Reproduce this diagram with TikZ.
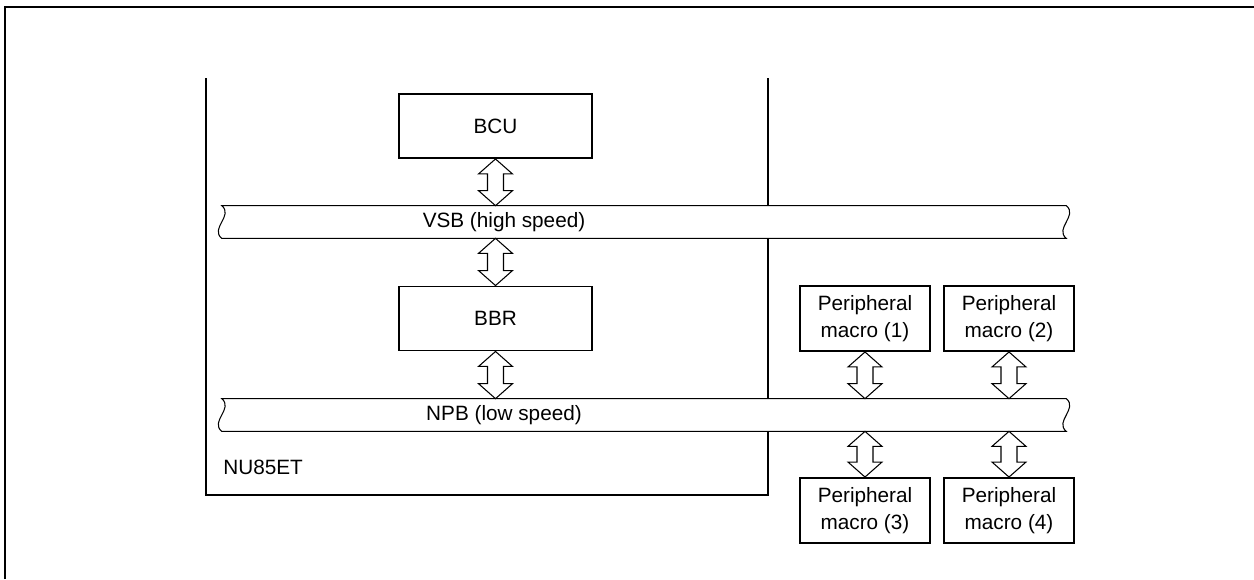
\documentclass[tikz,border=0pt]{standalone}
\usepackage{fontspec}
\setmainfont{Liberation Sans}
\usetikzlibrary{calc}

\tikzset{
    box/.style={draw, line width=1.1pt, fill=white, align=center, inner sep=0pt,
        font=\fontsize{11.8}{15.3}\selectfont},
    unit/.style={box, minimum width=3.86cm, minimum height=1.28cm},
    macro/.style={box, minimum width=2.6cm, minimum height=1.3cm},
    bus/.style={minimum width=16.88cm, minimum height=0.64cm, inner sep=0pt},
    busline/.style={draw, fill=white, line width=0.6pt},
    label/.style={inner sep=0pt, font=\fontsize{11.8}{15.3}\selectfont},
    chip/.style={line width=1.1pt},
    link/.style={draw, fill=white, line width=0.6pt, line join=miter,
        to path={let \p1=(\tikztostart), \p2=(\tikztotarget) in
            (\x1,\y1) -- ++(0.34cm,-0.3cm) -- ++(-0.18cm,0) -- (\x1+0.16cm,\y2+0.3cm)
            -- ++(0.18cm,0) -- (\x1,\y2) -- ++(-0.34cm,0.3cm) -- ++(0.18cm,0)
            -- (\x1-0.16cm,\y1-0.3cm) -- ++(-0.18cm,0) -- cycle}}
}

\begin{document}
\begin{tikzpicture}[x=0.02cm, y=-0.02cm]
    \useasboundingbox (0,0) rectangle (1254,579);
    \draw[line width=0.8pt] (5,579) -- (5,7) -- (1254,7);

    \coordinate (chip-nw) at (206,78);
    \coordinate (chip-ne) at (768,78);
    \coordinate (chip-se) at (768,495);
    \draw[chip] (chip-nw) |- (chip-se) -- (chip-ne);
    \node[label, anchor=west] (chip-name) at (223,467) {NU85ET};

    \node[bus] (vsb) at (644,222) {};
    \node[bus] (npb) at (644,415) {};
    \foreach \b in {vsb,npb}
        \draw[busline] (\b.north west) -- (\b.north east)
            .. controls ($(\b.north east)+(12,10)$) and ($(\b.south east)+(-12,-10)$) .. (\b.south east)
            -- (\b.south west)
            .. controls ($(\b.south west)+(-12,-10)$) and ($(\b.north west)+(12,10)$) .. (\b.north west) -- cycle;
    \node[label] (vsb-label) at (504,222) {VSB (high speed)};
    \node[label] (npb-label) at (504,415) {NPB (low speed)};

    \node[unit] (bcu) at (495.5,126) {BCU};
    \node[unit] (bbr) at (495.5,318.5) {BBR};
    \node[macro] (macro1) at (865,318.5) {Peripheral\\macro (1)};
    \node[macro] (macro2) at (1009,318.5) {Peripheral\\macro (2)};
    \node[macro] (macro3) at (865,510.5) {Peripheral\\macro (3)};
    \node[macro] (macro4) at (1009,510.5) {Peripheral\\macro (4)};

    \draw[link] (bcu.south) to (vsb.north -| bcu.south);
    \draw[link] (vsb.south -| bbr.north) to (bbr.north);
    \draw[link] (bbr.south) to (npb.north -| bbr.south);
    \draw[link] (macro1.south) to (npb.north -| macro1.south);
    \draw[link] (macro2.south) to (npb.north -| macro2.south);
    \draw[link] (npb.south -| macro3.north) to (macro3.north);
    \draw[link] (npb.south -| macro4.north) to (macro4.north);
\end{tikzpicture}
\end{document}
